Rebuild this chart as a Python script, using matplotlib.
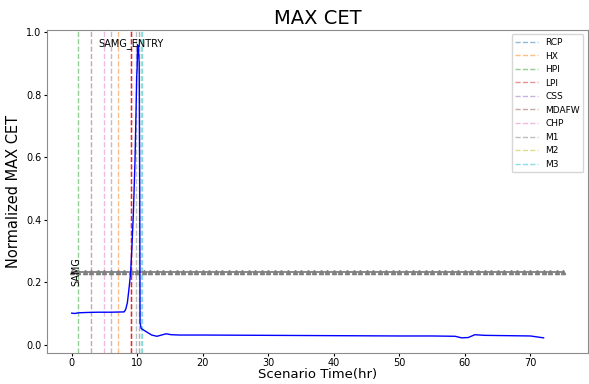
import matplotlib
matplotlib.use('Agg')
import matplotlib.pyplot as plt

# normalized max CET over scenario time
time_hr = [0, 0.5, 1, 2, 4, 6, 8, 8.24, 8.5, 8.8, 9.0, 9.16, 9.41, 9.66, 9.82, 9.92,
           9.98, 10.05, 10.15, 10.3, 10.38, 10.43, 10.6, 10.9, 11.5, 12.2, 13.0, 13.7,
           14.4, 15.2, 16.5, 20, 30, 40, 50, 55, 58.5, 59.5, 60.5, 61.5, 63, 70, 71, 72]
max_cet = [0.101, 0.100, 0.102, 0.103, 0.104, 0.104, 0.105, 0.113, 0.135, 0.19, 0.233,
           0.30, 0.42, 0.59, 0.75, 0.86, 0.88, 0.96, 0.955, 0.90, 0.5, 0.07, 0.052, 0.048,
           0.04, 0.031, 0.027, 0.031, 0.035, 0.032, 0.031, 0.031, 0.030, 0.029, 0.028,
           0.028, 0.027, 0.022, 0.023, 0.032, 0.030, 0.028, 0.025, 0.022]

# SAMG threshold line
samg_level = 0.233
samg_hours = list(range(0, 76))

# operator actions (hr)
actions = ['RCP', 'HX', 'HPI', 'LPI', 'CSS', 'MDAFW', 'CHP', 'M1', 'M2', 'M3']
action_times = [10.2, 7.0, 1.0, 9.0, 6.0, 3.0, 5.0, 9.75, 10.5, 10.8]
samg_entry = 9.0

fig, ax = plt.subplots(figsize=(5.89, 3.84), dpi=100)
fig.subplots_adjust(left=0.08, right=0.998, top=0.922, bottom=0.082)

for i, (name, t) in enumerate(zip(actions, action_times)):
    ax.axvline(t, color=f'C{i}', linestyle='--', linewidth=1, alpha=0.5, label=name)

ax.axvline(samg_entry, color='red', linestyle='--', linewidth=1, alpha=0.8)
ax.text(samg_entry, 0.965, 'SAMG_ENTRY', ha='center', va='center', fontsize=7)

ax.plot(samg_hours, [samg_level] * len(samg_hours), color='gray', marker='^',
        markersize=3, linewidth=1.3)
ax.text(0.7, samg_level, 'SAMG', rotation=90, ha='center', va='center', fontsize=7)

ax.plot(time_hr, max_cet, color='blue', linewidth=1)

ax.set_title('MAX CET', fontsize=14, pad=4)
ax.set_xlabel('Scenario Time(hr)', fontsize=9.5, labelpad=0)
ax.set_ylabel('Normalized MAX CET', fontsize=10.5)
ax.tick_params(labelsize=7, length=2, pad=2)
for s in ax.spines.values():
    s.set_color('0.55')
ax.legend(loc='upper right', fontsize=6.5, handlelength=2.5)

fig.savefig('out.png')
